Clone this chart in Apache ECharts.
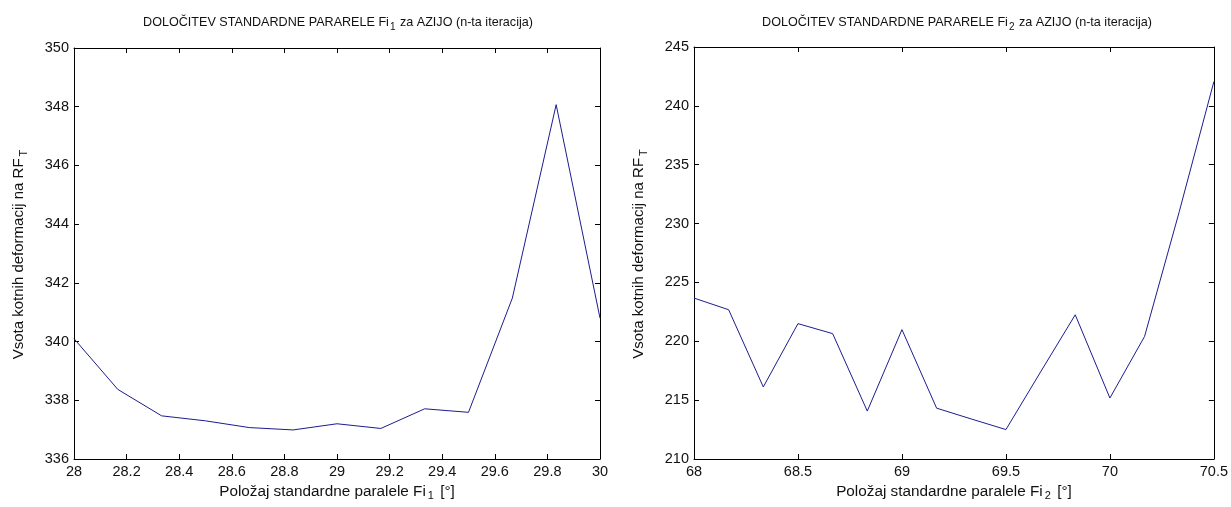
<!DOCTYPE html>
<html><head><meta charset="utf-8">
<script src="https://cdn.jsdelivr.net/npm/echarts@6/dist/echarts.min.js"></script>
<style>html,body{margin:0;padding:0;background:#fff}#c{width:1231px;height:507px}</style>
</head><body><div id="c"></div>
<script>
// Left panel: Fi1
const fi1X = [28, 28.1667, 28.3333, 28.5, 28.6667, 28.8333, 29, 29.1667, 29.3333, 29.5, 29.6667, 29.8333, 30];
const fi1Y = [340.1, 338.37, 337.47, 337.3, 337.07, 336.99, 337.2, 337.04, 337.71, 337.59, 341.48, 348.07, 340.8];
// Right panel: Fi2
const fi2X = [68, 68.1667, 68.3333, 68.5, 68.6667, 68.8333, 69, 69.1667, 69.3333, 69.5, 69.6667, 69.8333, 70, 70.1667, 70.3333, 70.5];
const fi2Y = [223.67, 222.68, 216.12, 221.5, 220.65, 214.07, 220.99, 214.32, 213.4, 212.5, 217.4, 222.25, 215.18, 220.41, 231.0, 242.06];

const title1 = 'DOLOČITEV STANDARDNE PARARELE Fi{s|1} za AZIJO (n-ta iteracija)';
const title2 = 'DOLOČITEV STANDARDNE PARARELE Fi{s|2} za AZIJO (n-ta iteracija)';
const xName1 = 'Položaj standardne paralele Fi{s|1} [°]';
const xName2 = 'Položaj standardne paralele Fi{s|2} [°]';
const yName = 'Vsota kotnih deformacij na RF{s|T}';

const FONT = '"Liberation Sans", Arial, sans-serif';
const TXT = '#111';
const LINE = '#1c1c8e';
const subRich = { s: { fontSize: 11, fontFamily: FONT, color: TXT, padding: [10, 2, 0, 2] } };
const subRichT = { s: { fontSize: 10, fontFamily: FONT, color: TXT, padding: [9, 1, 0, 1] } };

function zip(a, b) { return a.map((v, i) => [v, b[i]]); }

function xAxes(gi, min, max, interval, name) {
  return [{
    type: 'value', gridIndex: gi, min, max, interval, position: 'bottom',
    name, nameLocation: 'middle', nameGap: 20,
    nameTextStyle: { fontFamily: FONT, fontSize: 15.3, color: TXT, rich: subRich },
    axisLine: { show: true, lineStyle: { color: '#000', width: 1 } },
    axisTick: { show: true, inside: true, length: 5, lineStyle: { color: '#000' } },
    axisLabel: { fontFamily: FONT, fontSize: 14.5, color: TXT, margin: 5 },
    splitLine: { show: false }
  }, {
    type: 'value', gridIndex: gi, min, max, interval, position: 'top',
    axisLine: { show: true, lineStyle: { color: '#000', width: 1 } },
    axisTick: { show: true, inside: true, length: 5, lineStyle: { color: '#000' } },
    axisLabel: { show: false }, splitLine: { show: false }
  }];
}
function yAxes(gi, min, max, interval) {
  return [{
    type: 'value', gridIndex: gi, min, max, interval, position: 'left',
    name: yName, nameLocation: 'middle', nameGap: 45, nameRotate: 90,
    nameTextStyle: { fontFamily: FONT, fontSize: 15, color: TXT, rich: subRich },
    axisLine: { show: true, lineStyle: { color: '#000', width: 1 } },
    axisTick: { show: true, inside: true, length: 5, lineStyle: { color: '#000' } },
    axisLabel: { fontFamily: FONT, fontSize: 14.5, color: TXT, margin: 5 },
    splitLine: { show: false }
  }, {
    type: 'value', gridIndex: gi, min, max, interval, position: 'right',
    axisLine: { show: true, lineStyle: { color: '#000', width: 1 } },
    axisTick: { show: true, inside: true, length: 5, lineStyle: { color: '#000' } },
    axisLabel: { show: false }, splitLine: { show: false }
  }];
}

const chart = echarts.init(document.getElementById('c'), null, { renderer: 'canvas' });
chart.setOption({
  animation: false,
  backgroundColor: '#fff',
  title: [
    { text: title1, left: 333, top: 8, textAlign: 'center',
      textStyle: { fontFamily: FONT, fontSize: 12.6, fontWeight: 'normal', color: TXT, rich: subRichT } },
    { text: title2, left: 952, top: 8, textAlign: 'center',
      textStyle: { fontFamily: FONT, fontSize: 12.6, fontWeight: 'normal', color: TXT, rich: subRichT } }
  ],
  grid: [
    { left: 74, right: 631, top: 48, bottom: 48 },
    { left: 694, right: 15, top: 47, bottom: 48 }
  ],
  xAxis: [...xAxes(0, 28, 30, 0.2, xName1), ...xAxes(1, 68, 70.5, 0.5, xName2)],
  yAxis: [...yAxes(0, 336, 350, 2), ...yAxes(1, 210, 245, 5)],
  series: [
    { type: 'line', xAxisIndex: 0, yAxisIndex: 0, data: zip(fi1X, fi1Y), showSymbol: false,
      lineStyle: { color: LINE, width: 1 }, itemStyle: { color: LINE } },
    { type: 'line', xAxisIndex: 2, yAxisIndex: 2, data: zip(fi2X, fi2Y), showSymbol: false,
      lineStyle: { color: LINE, width: 1 }, itemStyle: { color: LINE } }
  ]
});
</script></body></html>
